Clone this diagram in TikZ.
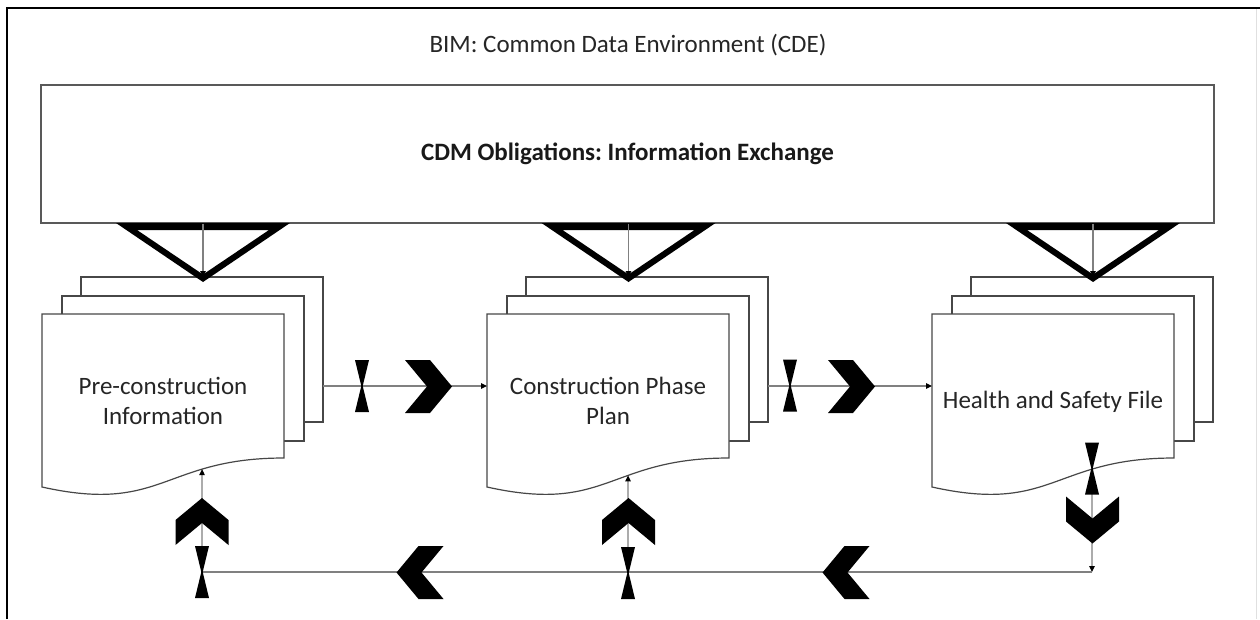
\documentclass[tikz,border=0pt]{standalone}
\usepackage{fontspec}
\setmainfont{Carlito}
\frenchspacing
\usetikzlibrary{arrows.meta,intersections}
\tikzset{
  funnel/.pic={\fill[black,even odd rule] (-87,0) -- (87,0) -- (0,59) -- cycle (-66,7) -- (66,7) -- (0,51.5) -- cycle;},
  chevR/.pic={\fill[black] (-23.5,-26.5) -- (1.5,-26.5) -- (23.5,0) -- (1.5,26.5) -- (-23.5,26.5) -- (-1.5,0) -- cycle;},
  chevL/.pic={\fill[black] (23.5,-26.5) -- (-1.5,-26.5) -- (-23.5,0) -- (-1.5,26.5) -- (23.5,26.5) -- (1.5,0) -- cycle;},
  chevU/.pic={\fill[black] (-26.5,23.5) -- (-26.5,-1.5) -- (0,-23.5) -- (26.5,-1.5) -- (26.5,23.5) -- (0,1.5) -- cycle;},
  chevD/.pic={\fill[black] (-26.5,-23.5) -- (-26.5,1.5) -- (0,23.5) -- (26.5,1.5) -- (26.5,-23.5) -- (0,-1.5) -- cycle;},
  hourglass/.pic={\fill[black] (-7,-26) -- (7,-26) -- (0.7,0) -- (7,26) -- (-7,26) -- (-0.7,0) -- cycle;},
}
\begin{document}
\begin{tikzpicture}[x=1pt,y=-1pt,
  boxline/.style={draw=black!65, line width=1.4pt},
  page/.style={draw=black!72, line width=1.2pt, fill=white},
  conn/.style={draw=black!50, line width=1.1pt},
  arr/.style={conn, -{Triangle[length=6pt,width=5.5pt,black]}},
  lbl/.style={font=\fontsize{25}{30}\selectfont, text=black!85, align=center, inner sep=0pt},
  pagebox/.style={page, minimum width=242pt, minimum height=145pt, inner sep=0pt, outer sep=0pt, anchor=north west},
  frontbox/.style={minimum width=242pt, minimum height=144pt, inner sep=0pt, outer sep=0pt, anchor=north west},
]
\useasboundingbox (0,0) rectangle (1260,619);
% outer frame
\draw[black, line width=1.4pt] (7,619) -- (7,8) -- (1260,8);
\draw[black!12, line width=1pt] (1256,9) -- (1256,619);
% title
\node[lbl] (title) at (628,45) {BIM: Common Data Environment (CDE)};
% main box
\node[boxline, minimum width=1173pt, minimum height=138pt, inner sep=0pt,
      font=\fontsize{25}{30}\selectfont\bfseries, text=black!90] (cdm) at (627.5,154) {CDM Obligations: Information Exchange};
% documents
\foreach \i/\x in {1/42,2/487,3/932} {
  \node[pagebox] (b\i) at (\x+39,277) {};
  \node[pagebox] (m\i) at (\x+20,296) {};
  \node[frontbox] (f\i) at (\x,314) {};
  \filldraw[page] (\x,314) -- (\x+242,314) -- (\x+242,458) .. controls (\x+121,458) and (\x+121,514) .. (\x,487) -- cycle;
  \path[name path global=wave\i] (\x+242,458) .. controls (\x+121,458) and (\x+121,514) .. (\x,487);
}
\node[lbl] (t1) at (163,401) {Pre-construction\\Information};
\node[lbl] (t2) at (608,401) {Construction Phase\\Plan};
\node[lbl] (t3) at (1053,402) {Health and Safety File};
% named points
\coordinate (row) at (0,386);
\coordinate (c1) at (202,572);
\coordinate (c2) at (628,572);
\coordinate (c3) at (1092,572);
\coordinate (tp1) at (203,277);
\coordinate (tp2) at (628.5,277);
\coordinate (tp3) at (1093,277);
\path[name path=v1] (202,300) -- (202,619);
\path[name path=v2] (628,300) -- (628,619);
\path[name path=v3] (1092,300) -- (1092,619);
\path[name intersections={of=wave1 and v1, by=w1}];
\path[name intersections={of=wave2 and v2, by=w2}];
\path[name intersections={of=wave3 and v3, by=w3}];
% connectors
\draw[arr] (b1.east |- row) -- (f2.west |- row);
\draw[arr] (b2.east |- row) -- (f3.west |- row);
\draw[arr] (w3) -- (c3);
\draw[conn] (c3) -- (c1);
\draw[arr] (c1) -- (w1);
\draw[arr] (c2) -- (w2);
% funnels
\pic at (203,223) {funnel};
\pic at (628.5,223) {funnel};
\pic at (1093,223) {funnel};
\draw[arr] (cdm.south -| tp1) -- (tp1);
\draw[arr] (cdm.south -| tp2) -- (tp2);
\draw[arr] (cdm.south -| tp3) -- (tp3);
% chevrons and hourglasses
\pic at (428.5,386.5) {chevR};
\pic at (851.5,386.5) {chevR};
\pic at (1092.5,520) {chevD};
\pic at (846,572.5) {chevL};
\pic at (420,572.5) {chevL};
\pic at (628.5,521.5) {chevU};
\pic at (202,521.5) {chevU};
\pic at (362,386) {hourglass};
\pic at (790,385.5) {hourglass};
\pic at (1092,468.5) {hourglass};
\pic at (628,573) {hourglass};
\pic at (202,572) {hourglass};
\end{tikzpicture}
\end{document}
